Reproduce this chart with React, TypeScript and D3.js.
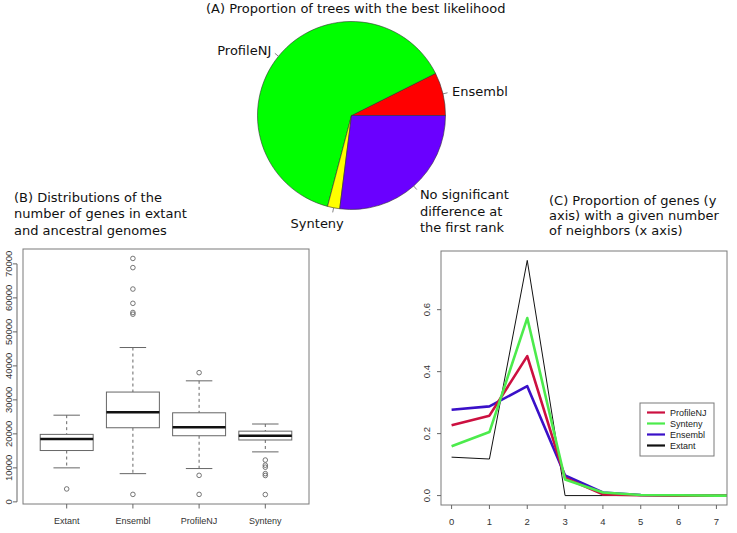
import React from "react";
import * as d3 from "d3";

// ---------- DATA ----------
// (A) pie
const pieLabels = ["Ensembl", "ProfileNJ", "Synteny", "No significant\ndifference at\nthe first rank"];
const pieValues = [7.4, 63.5, 2.1, 27.0];
const pieColors = ["#FF0000", "#00FF00", "#FFFF00", "#6A00FF"];

// (B) boxplots
const boxCategories = ["Extant", "Ensembl", "ProfileNJ", "Synteny"];
const boxWhiskerLow = [10000, 8300, 9800, 14700];
const boxQ1 = [15100, 21800, 19450, 18200];
const boxMedian = [18500, 26350, 21950, 19450];
const boxQ3 = [19850, 32300, 26200, 20800];
const boxWhiskerHigh = [25500, 45400, 35600, 22900];
const boxOutliers = [
  [3800],
  [2200, 55200, 55700, 58400, 62600, 68900, 71600],
  [2200, 7800, 38000],
  [2150, 7750, 8300, 10200, 10800, 12300],
];
const boxYTicks = [0, 10000, 20000, 30000, 40000, 50000, 60000, 70000];

// (C) lines
const neighbors = [0, 1, 2, 3, 4, 5, 6, 7, 8];
const lineNames = ["ProfileNJ", "Synteny", "Ensembl", "Extant"];
const profileNJ = [0.227, 0.258, 0.45, 0.057, 0.004, 0.001, 0.0, 0.0, 0.0];
const synteny = [0.159, 0.205, 0.573, 0.052, 0.01, 0.002, 0.001, 0.0, 0.0];
const ensembl = [0.277, 0.288, 0.353, 0.065, 0.01, 0.002, 0.0005, 0.0, 0.0];
const extant = [0.124, 0.118, 0.759, 0.0, 0.0, 0.0, 0.0, 0.0, 0.0];
const lineColors = ["#CC1040", "#4CEB4C", "#3A10C8", "#111111"];
const lineWidths = [2.6, 2.6, 2.6, 1];
const cXTicks = [0, 1, 2, 3, 4, 5, 6, 7];
const cYTicks = [0, 0.2, 0.4, 0.6];

// ---------- STYLE / LAYOUT ----------
const W = 737;
const H = 533;
const titleFont = "'DejaVu Sans', 'Open Sans', sans-serif";
const titleSize = 13;
const tickFont = "'Liberation Sans', Arial, sans-serif";
const frameColor = "#7a7a7a";
const axisColor = "#666";
const tickText = "#333";

const pieCx = 351.5, pieCy = 115.5, pieR = 94;
const pieNudge = [[0, 0], [0, 0], [12, 6], [0, 1.5]];
const lineGap = 16.5;

const B = { l: 23, r: 309, t: 249, b: 504 };
const C = { l: 441, r: 727, t: 251, b: 505 };

export default function App() {
  // ---- pie ----
  const pie = d3
    .pie<number>()
    .sort(null)
    .startAngle(Math.PI / 2)
    .endAngle(Math.PI / 2 - 2 * Math.PI)(pieValues);
  const arc = d3.arc<d3.PieArcDatum<number>>().innerRadius(0).outerRadius(pieR);

  // ---- boxplot ----
  const allB = [...boxWhiskerLow, ...boxWhiskerHigh, ...boxOutliers.flat()];
  const bMin = d3.min(allB)!, bMax = d3.max(allB)!;
  const bPad = (bMax - bMin) * 0.04;
  const yB = d3.scaleLinear().domain([bMin - bPad, bMax + bPad]).range([B.b, B.t]);
  const xB = d3.scaleLinear().domain([1 - 0.5 - 0.16, boxCategories.length + 0.5 + 0.16]).range([B.l, B.r]);

  // ---- lines ----
  const series = [profileNJ, synteny, ensembl, extant];
  const cMax = d3.max(series.flat())!;
  const yC = d3.scaleLinear().domain([0 - cMax * 0.04, cMax + cMax * 0.04]).range([C.b, C.t]);
  const xC = d3.scaleLinear().domain([-0.28, 7.28]).range([C.l, C.r]);
  const line = d3
    .line<number>()
    .x((_, i) => xC(neighbors[i]))
    .y((d) => yC(d));
  const drawOrder = [3, 2, 0, 1];

  return (
    <svg
      width={W}
      height={H}
      viewBox={`0 0 ${W} ${H}`}
      style={{ position: "absolute", left: 0, top: 0, background: "#fff" }}
    >
      <defs>
        <clipPath id="clipC">
          <rect x={C.l} y={C.t} width={C.r - C.l} height={C.b - C.t} />
        </clipPath>
      </defs>
      <rect x={0} y={0} width={W} height={H} fill="#fff" />

      {/* ===== (A) ===== */}
      <text x={206} y={13} fontFamily={titleFont} fontSize={titleSize} fill="#111">
        (A) Proportion of trees with the best likelihood
      </text>
      <g transform={`translate(${pieCx},${pieCy})`}>
        {pie.map((d, i) => (
          <path key={i} d={arc(d)!} fill={pieColors[i]} stroke="#333" strokeWidth={0.6} />
        ))}
        {pie.map((d, i) => {
          const m = (d.startAngle + d.endAngle) / 2;
          const sx = Math.sin(m), sy = -Math.cos(m);
          const tx = sx * pieR * 1.1 + pieNudge[i][0];
          const ty = sy * pieR * 1.1 + 4.5 + pieNudge[i][1];
          const lines = pieLabels[i].split("\n");
          return (
            <g key={"l" + i}>
              <line
                x1={sx * pieR}
                y1={sy * pieR}
                x2={sx * pieR * 1.05}
                y2={sy * pieR * 1.05}
                stroke="#666"
                strokeWidth={0.8}
              />
              <text
                x={tx}
                y={ty}
                textAnchor={sx < 0 ? "end" : "start"}
                fontFamily={titleFont}
                fontSize={titleSize}
                fill="#111"
              >
                {lines.map((t, k) => (
                  <tspan key={k} x={tx} dy={k === 0 ? 0 : lineGap}>
                    {t}
                  </tspan>
                ))}
              </text>
            </g>
          );
        })}
      </g>

      {/* ===== (B) ===== */}
      <text x={14} y={201.5} fontFamily={titleFont} fontSize={titleSize} fill="#111">
        <tspan x={14} dy={0}>(B) Distributions of the</tspan>
        <tspan x={14} dy={lineGap}>number of genes in extant</tspan>
        <tspan x={14} dy={lineGap}>and ancestral genomes</tspan>
      </text>
      <rect x={B.l} y={B.t} width={B.r - B.l} height={B.b - B.t} fill="none" stroke={frameColor} strokeWidth={1} />
      {/* y axis */}
      <line x1={17} x2={17} y1={yB(boxYTicks[0])} y2={yB(boxYTicks[boxYTicks.length - 1])} stroke={axisColor} />
      {boxYTicks.map((t) => (
        <g key={t}>
          <line x1={13} x2={17} y1={yB(t)} y2={yB(t)} stroke={axisColor} />
          <text
            transform={`translate(11.5,${yB(t)}) rotate(-90)`}
            textAnchor="middle"
            fontFamily={tickFont}
            fontSize={9.5}
            fill={tickText}
          >
            {t}
          </text>
        </g>
      ))}
      {/* x axis ticks */}
      {boxCategories.map((c, i) => (
        <g key={c}>
          <line x1={xB(i + 1)} x2={xB(i + 1)} y1={B.b} y2={B.b + 4.5} stroke={axisColor} />
          <text x={xB(i + 1)} y={523.5} textAnchor="middle" fontFamily={tickFont} fontSize={9} fill={tickText}>
            {c}
          </text>
        </g>
      ))}
      {boxCategories.map((c, i) => {
        const cx = xB(i + 1);
        const hw = xB(1.4) - xB(1);
        const sw = xB(1.2) - xB(1);
        return (
          <g key={"box" + c}>
            <line x1={cx} x2={cx} y1={yB(boxWhiskerHigh[i])} y2={yB(boxQ3[i])} stroke="#666" strokeDasharray="3,3" />
            <line x1={cx} x2={cx} y1={yB(boxQ1[i])} y2={yB(boxWhiskerLow[i])} stroke="#666" strokeDasharray="3,3" />
            <line x1={cx - sw} x2={cx + sw} y1={yB(boxWhiskerHigh[i])} y2={yB(boxWhiskerHigh[i])} stroke="#666" />
            <line x1={cx - sw} x2={cx + sw} y1={yB(boxWhiskerLow[i])} y2={yB(boxWhiskerLow[i])} stroke="#666" />
            <rect
              x={cx - hw}
              y={yB(boxQ3[i])}
              width={2 * hw}
              height={yB(boxQ1[i]) - yB(boxQ3[i])}
              fill="#fff"
              stroke="#666"
            />
            <line x1={cx - hw} x2={cx + hw} y1={yB(boxMedian[i])} y2={yB(boxMedian[i])} stroke="#111" strokeWidth={2.6} />
            {boxOutliers[i].map((o, k) => (
              <circle key={k} cx={cx} cy={yB(o)} r={2.3} fill="none" stroke="#666" strokeWidth={0.9} />
            ))}
          </g>
        );
      })}

      {/* ===== (C) ===== */}
      <text x={549} y={205} fontFamily={titleFont} fontSize={titleSize} fill="#111">
        <tspan x={549} dy={0}>(C) Proportion of genes (y</tspan>
        <tspan x={549} dy={15.2}>axis) with a given number</tspan>
        <tspan x={549} dy={15.2}>of neighbors (x axis)</tspan>
      </text>
      <g clipPath="url(#clipC)">
        {drawOrder.map((si) => (
          <path
            key={si}
            d={line(series[si])!}
            fill="none"
            stroke={lineColors[si]}
            strokeWidth={lineWidths[si]}
            strokeLinejoin="round"
          />
        ))}
      </g>
      <rect x={C.l} y={C.t} width={C.r - C.l} height={C.b - C.t} fill="none" stroke={frameColor} strokeWidth={1} />
      {cYTicks.map((t) => (
        <g key={t}>
          <line x1={C.l - 4} x2={C.l} y1={yC(t)} y2={yC(t)} stroke={axisColor} />
          <text
            transform={`translate(430,${yC(t)}) rotate(-90)`}
            textAnchor="middle"
            fontFamily={tickFont}
            fontSize={9.5}
            fill={tickText}
          >
            {t.toFixed(1)}
          </text>
        </g>
      ))}
      {cXTicks.map((t) => (
        <g key={t}>
          <line x1={xC(t)} x2={xC(t)} y1={C.b} y2={C.b + 4} stroke={axisColor} />
          <text x={xC(t)} y={525} textAnchor="middle" fontFamily={tickFont} fontSize={9.5} fill={tickText}>
            {t}
          </text>
        </g>
      ))}
      {/* legend */}
      <rect x={640} y={403} width={74} height={53} fill="#fff" stroke={frameColor} strokeWidth={1} />
      {lineNames.map((n, i) => (
        <g key={n}>
          <line x1={647} x2={665} y1={412.5 + i * 11} y2={412.5 + i * 11} stroke={lineColors[i]} strokeWidth={2.2} />
          <text x={670} y={415.8 + i * 11} fontFamily={tickFont} fontSize={9} fill="#222">
            {n}
          </text>
        </g>
      ))}
    </svg>
  );
}
